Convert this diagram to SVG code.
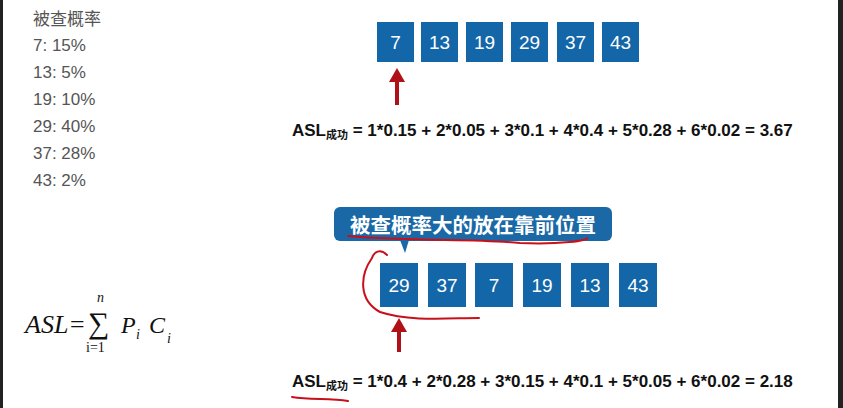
<svg xmlns="http://www.w3.org/2000/svg" width="843" height="408" viewBox="0 0 843 408">
<style>
.lt{font-family:"Liberation Sans","Noto Sans CJK SC",sans-serif;font-size:17px;fill:#555}
.bx{fill:#1366a8}
.bt{font-family:"Liberation Sans",sans-serif;font-size:19px;fill:#fff;text-anchor:middle}
.f{font-family:"Liberation Sans","Noto Sans CJK SC",sans-serif;font-size:17px;font-weight:bold;fill:#111}
.ink{fill:none;stroke:#c8101a;stroke-width:2;stroke-linecap:round}
</style>
<rect width="843" height="408" fill="#fff"/>
<rect x="0" y="0" width="3" height="408" fill="#222"/>
<rect x="838" y="0" width="5" height="408" fill="#222"/>
<g id="legend" class="lt">
<text x="33" y="25">被查概率</text>
<text x="33" y="51">7: 15%</text>
<text x="33" y="78">13: 5%</text>
<text x="33" y="105">19: 10%</text>
<text x="33" y="132">29: 40%</text>
<text x="33" y="159">37: 28%</text>
<text x="33" y="186">43: 2%</text>
</g>
<g id="formula" font-family="Liberation Serif,serif" fill="#111">
<text x="25" y="333" font-size="26" font-style="italic">ASL=</text>
<text x="88" y="333" font-size="30">∑</text>
<text x="97" y="302" font-size="14" font-style="italic">n</text>
<text x="86" y="352" font-size="14">i=1</text>
<text x="121" y="333" font-size="24" font-style="italic">P</text>
<text x="136" y="339" font-size="14" font-style="italic">i</text>
<text x="149" y="333" font-size="24" font-style="italic">C</text>
<text x="167" y="343" font-size="14" font-style="italic">i</text>
</g>
<g id="top-row">
<rect class="bx" x="377" y="22" width="37" height="40"/><text class="bt" x="395.5" y="49">7</text>
<rect class="bx" x="421" y="22" width="37" height="40"/><text class="bt" x="439.5" y="49">13</text>
<rect class="bx" x="466" y="22" width="37" height="40"/><text class="bt" x="484.5" y="49">19</text>
<rect class="bx" x="511" y="22" width="37" height="40"/><text class="bt" x="529.5" y="49">29</text>
<rect class="bx" x="557" y="22" width="37" height="40"/><text class="bt" x="575.5" y="49">37</text>
<rect class="bx" x="602" y="22" width="37" height="40"/><text class="bt" x="620.5" y="49">43</text>
</g>
<g id="bottom-row">
<rect class="bx" x="380" y="263" width="38" height="44"/><text class="bt" x="399" y="292">29</text>
<rect class="bx" x="428" y="263" width="38" height="44"/><text class="bt" x="447" y="292">37</text>
<rect class="bx" x="475" y="263" width="38" height="44"/><text class="bt" x="494" y="292">7</text>
<rect class="bx" x="523" y="263" width="38" height="44"/><text class="bt" x="542" y="292">19</text>
<rect class="bx" x="571" y="263" width="38" height="44"/><text class="bt" x="590" y="292">13</text>
<rect class="bx" x="619" y="263" width="38" height="44"/><text class="bt" x="638" y="292">43</text>
</g>
<g id="callout">
<rect x="334" y="207" width="278" height="34" rx="6" fill="#1a68a6"/>
<path d="M400 240 L409 240 L405 253 Z" fill="#1a68a6"/>
<text x="473" y="233" text-anchor="middle" font-family="Noto Sans CJK SC,sans-serif" font-size="20.5" font-weight="bold" fill="#fff">被查概率大的放在靠前位置</text>
</g>
<g id="connectors">
<path d="M397 105 V80" stroke="#b01018" stroke-width="4"/>
<path d="M389 82 L397 68 L405 82 Z" fill="#b01018"/>
<path d="M399 352 V330" stroke="#b01018" stroke-width="4"/>
<path d="M391 332 L399 318 L407 332 Z" fill="#b01018"/>
</g>
<g id="equations">
<text class="f" x="292" y="136">ASL<tspan font-size="11" dy="3">成功</tspan><tspan dy="-3"> = 1*0.15 + 2*0.05 + 3*0.1 + 4*0.4 + 5*0.28 + 6*0.02 = 3.67</tspan></text>
<text class="f" x="292" y="387">ASL<tspan font-size="11" dy="3">成功</tspan><tspan dy="-3"> = 1*0.4 + 2*0.28 + 3*0.15 + 4*0.1 + 5*0.05 + 6*0.02 = 2.18</tspan></text>
</g>
<g id="ink">
<path class="ink" d="M348 236 C420 242 470 238 520 243 C560 245 590 240 587 238"/>
<path class="ink" d="M387 255 C380 248 374 252 372 258 C360 275 358 300 380 312 C410 322 450 318 479 318"/>
<path class="ink" d="M292 397 C310 400 330 398 348 401"/>
</g>
</svg>
